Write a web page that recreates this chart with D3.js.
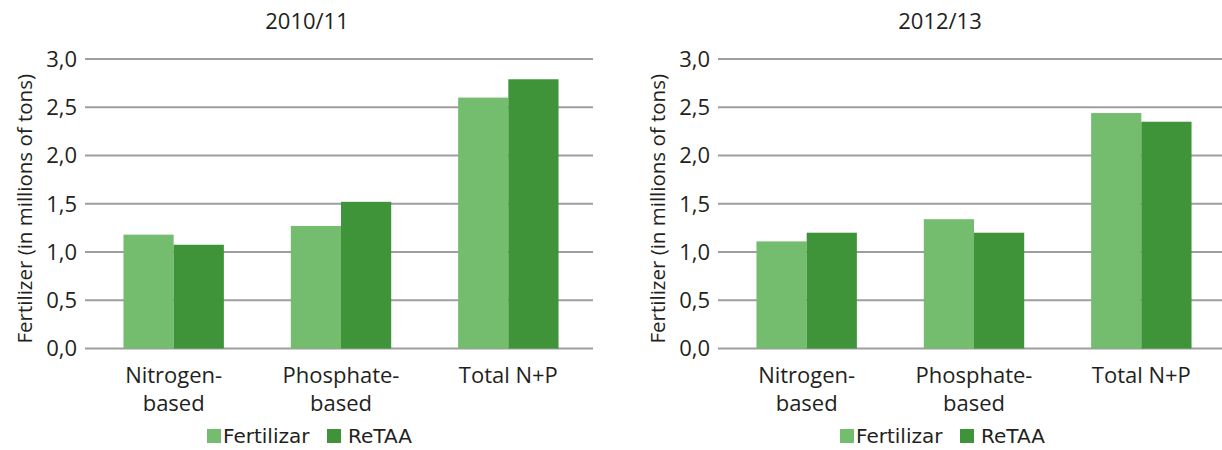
<!DOCTYPE html>
<html>
<head>
<meta charset="utf-8">
<script src="https://cdn.jsdelivr.net/npm/d3@7"></script>
<style>
  html, body { margin: 0; padding: 0; background: #fff; }
  svg { display: block; }
  text { fill: #231f20; }
</style>
</head>
<body>
<svg id="chart" width="1222" height="450"></svg>
<script>
// Fertilizer volumes (millions of tons) per period
const periods = ["2010/11", "2012/13"];
const categories = [["Nitrogen-", "based"], ["Phosphate-", "based"], ["Total N+P"]];
const seriesNames = ["Fertilizar", "ReTAA"];
const fertilizar = [[1.18, 1.27, 2.60], [1.11, 1.34, 2.44]];
const retaa = [[1.075, 1.52, 2.79], [1.20, 1.20, 2.35]];
const yTicks = [0, 0.5, 1.0, 1.5, 2.0, 2.5, 3.0];
const yTitle = "Fertilizer (in millions of tons)";

const colors = ["#74bd6f", "#3f9439"];
const mainFont = "'Open Sans', 'Noto Sans', sans-serif";
const legendFont = "'DejaVu Sans', Verdana, sans-serif";

const svg = d3.select("#chart");
const panelOffset = 633;

const y = d3.scaleLinear().domain([0, 3]).range([348.5, 59]);
const fmt = d => d3.format(".1f")(d).replace(".", ",");

periods.forEach((period, p) => {
  const ox = p * panelOffset;
  const g = svg.append("g").attr("transform", `translate(${ox},0)`);
  const gridX0 = 85, gridX1 = 593;

  const x = d3.scaleBand()
    .domain(categories.map(c => c.join(" ")))
    .range([90, 592])
    .paddingInner(0.4)
    .paddingOuter(0.2);
  const xs = d3.scaleBand().domain(seriesNames).range([0, x.bandwidth()]);

  // grid lines
  g.append("g").selectAll("line").data(yTicks).join("line")
    .attr("x1", gridX0).attr("x2", gridX1)
    .attr("y1", d => y(d)).attr("y2", d => y(d))
    .attr("stroke", "#9e9e9e").attr("stroke-width", 1.8);

  // y tick labels
  g.append("g").selectAll("text").data(yTicks).join("text")
    .attr("x", 77).attr("y", d => y(d))
    .attr("dy", "0.36em")
    .attr("text-anchor", "end")
    .style("font-family", mainFont).style("font-size", "22px")
    .text(fmt);

  // y axis title
  g.append("text")
    .attr("transform", `translate(25,${(y(0) + y(3)) / 2 + 5}) rotate(-90)`)
    .attr("text-anchor", "middle")
    .attr("dy", "0.35em")
    .style("font-family", mainFont).style("font-size", "20.5px")
    .text(yTitle);

  // bars
  const rows = categories.map((c, i) => ({
    key: c.join(" "),
    values: [fertilizar[p][i], retaa[p][i]]
  }));
  const grp = g.append("g").selectAll("g").data(rows).join("g")
    .attr("transform", d => `translate(${x(d.key)},0)`);
  grp.selectAll("rect").data(d => d.values.map((v, s) => ({ v, s })))
    .join("rect")
    .attr("x", d => xs(seriesNames[d.s]))
    .attr("width", xs.bandwidth())
    .attr("y", d => y(d.v))
    .attr("height", d => y(0) - y(d.v))
    .attr("fill", d => colors[d.s]);

  // category labels
  const cl = g.append("g").selectAll("text").data(categories).join("text")
    .attr("x", (d, i) => x(rows[i].key) + x.bandwidth() / 2)
    .attr("y", 383)
    .attr("text-anchor", "middle")
    .style("font-family", mainFont).style("font-size", "22px");
  cl.selectAll("tspan").data(d => d).join("tspan")
    .attr("x", function () { return d3.select(this.parentNode).attr("x"); })
    .attr("dy", (d, i) => i === 0 ? 0 : 28)
    .text(d => d);

  // title
  g.append("text")
    .attr("x", 307).attr("y", 29)
    .attr("text-anchor", "middle")
    .style("font-family", mainFont).style("font-size", "22px")
    .text(period);

  // legend
  const legendPos = [207, 327];
  const textPos = [223, 348];
  seriesNames.forEach((name, s) => {
    g.append("rect")
      .attr("x", legendPos[s]).attr("y", 429)
      .attr("width", 14).attr("height", 14)
      .attr("fill", colors[s]);
    g.append("text")
      .attr("x", textPos[s]).attr("y", 443)
      .style("font-family", legendFont).style("font-size", "20px")
      .text(name);
  });
});
</script>
</body>
</html>
